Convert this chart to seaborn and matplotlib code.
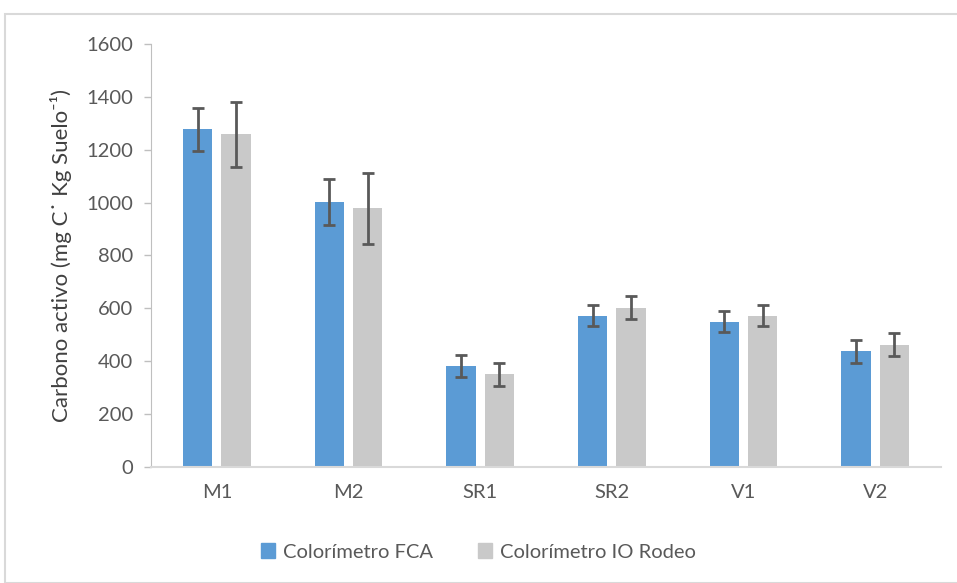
import matplotlib
matplotlib.use("Agg")
import matplotlib.pyplot as plt
import seaborn as sns
import pandas as pd
import numpy as np
from matplotlib.patches import Rectangle

categories = ["M1", "M2", "SR1", "SR2", "V1", "V2"]
series_names = ["Colorímetro FCA", "Colorímetro IO Rodeo"]
fca_values = [1277, 1003, 383, 573, 549, 437]
fca_err = [80, 88, 42, 40, 40, 42]
iorodeo_values = [1258, 978, 350, 603, 572, 463]
iorodeo_err = [124, 134, 44, 43, 40, 42]
y_ticks = [0, 200, 400, 600, 800, 1000, 1200, 1400, 1600]

sns.set_style("white")
plt.rcParams['font.family'] = ['Lato', 'DejaVu Sans']

df = pd.DataFrame({
    "cat": categories * 2,
    "serie": [series_names[0]] * len(categories) + [series_names[1]] * len(categories),
    "val": fca_values + iorodeo_values,
})
errs = {series_names[0]: fca_err, series_names[1]: iorodeo_err}

fig = plt.figure(figsize=(9.57, 5.83), dpi=100)
ax = fig.add_axes([151/957, 1-467/583, (941-151)/957, (467-44)/583])

colors = {series_names[0]: "#5B9BD5", series_names[1]: "#C9C9C9"}
sns.barplot(data=df, x="cat", y="val", hue="serie", hue_order=series_names,
            palette=colors, saturation=1, width=0.585, gap=0.24, errorbar=None, ax=ax,
            edgecolor="none", linewidth=0, legend=False)

# error bars centered on bars
for container, name in zip(ax.containers, series_names):
    xs = [p.get_x() + p.get_width()/2 for p in container.patches]
    ys = [p.get_height() for p in container.patches]
    ax.errorbar(xs, ys, yerr=errs[name], fmt="none", ecolor="#595959",
                elinewidth=2, capsize=4.5, capthick=2, zorder=5)

ax.set_ylim(0, 1600)
ax.set_xlim(-0.5, 5.5)
ax.set_yticks(y_ticks)
ax.set_yticklabels([str(t) for t in y_ticks])
ax.set_xlabel("")
ax.set_ylabel("Carbono activo (mg C\u02d9 Kg Suelo\u207b\u00b9)", fontsize=16,
              color="#404040", labelpad=10)
ax.tick_params(axis="y", labelsize=14.5, colors="#595959", length=5, width=1,
               color="#BFBFBF", left=True, pad=8)
ax.tick_params(axis="x", labelsize=14.5, colors="#595959", length=0, pad=12)
for lab in ax.get_yticklabels() + ax.get_xticklabels():
    lab.set_color("#595959")

sns.despine(ax=ax, top=True, right=True)
ax.spines["left"].set_color("#BFBFBF")
ax.spines["bottom"].set_color("#D9D9D9")
ax.spines["bottom"].set_linewidth(1.5)

handles = [Rectangle((0, 0), 1, 1, color=colors[n]) for n in series_names]
leg = fig.legend(handles, series_names, loc="center", bbox_to_anchor=(0.5, 1-552/583),
                 ncol=2, frameon=False, fontsize=14.5, handlelength=0.7, handleheight=0.7,
                 columnspacing=2.2, handletextpad=0.4)
for t in leg.get_texts():
    t.set_color("#595959")

fig.patches.append(Rectangle((5/957, 0.0), 1.2, 1-14/583, transform=fig.transFigure,
                             fill=False, edgecolor="#D9D9D9", linewidth=1.5))

fig.savefig("out.png", dpi=100)
